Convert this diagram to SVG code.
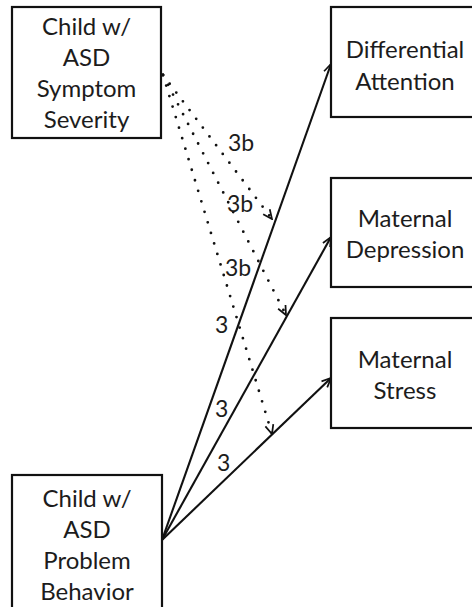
<svg xmlns="http://www.w3.org/2000/svg" width="472" height="607" viewBox="0 0 472 607">
  <style>
    .box { fill: #ffffff; stroke: #111111; stroke-width: 2.2; }
    .lbl { font-family: Lato, "Open Sans", "Liberation Sans", sans-serif; font-size: 24px; fill: #1c1c1c; text-anchor: middle; }
    .num { font-family: Lato, "Open Sans", "Liberation Sans", sans-serif; font-size: 23px; fill: #1c1c1c; }
    .solid { fill: none; stroke: #111111; stroke-width: 2.1; marker-end: url(#head); }
    .dots { fill: none; stroke: #111111; stroke-width: 2.8; stroke-linecap: round; stroke-dasharray: 0 11; marker-end: url(#head); }
  </style>
  <defs>
    <marker id="head" viewBox="0 0 12 12" refX="11" refY="6" markerWidth="11" markerHeight="11" markerUnits="userSpaceOnUse" orient="auto">
      <path d="M1,1.5 L11,6 L1,10.5" fill="none" stroke="#111111" stroke-width="1.9" stroke-dasharray="none"/>
    </marker>
  </defs>

  <rect width="472" height="607" fill="#ffffff"/>

  <!-- paths between the constructs -->
  <g id="connectors">
    <line class="solid" x1="162" y1="540" x2="331" y2="64"/>
    <line class="solid" x1="162" y1="540" x2="331" y2="237"/>
    <line class="solid" x1="162" y1="540" x2="331" y2="378"/>
    <line class="dots" x1="163" y1="75" x2="272" y2="219"/>
    <line class="dots" x1="163" y1="75" x2="286" y2="315"/>
    <line class="dots" x1="163" y1="75" x2="272" y2="434"/>
    <text class="num" x="228" y="151">3b</text>
    <text class="num" x="227" y="212">3b</text>
    <text class="num" x="225" y="276">3b</text>
    <text class="num" x="215" y="333">3</text>
    <text class="num" x="215" y="417">3</text>
    <text class="num" x="217" y="471">3</text>
  </g>

  <g id="symptom-severity">
    <rect class="box" x="12" y="7" width="149" height="131"/>
    <text class="lbl" x="86.5" y="35">Child w/</text>
    <text class="lbl" x="86.5" y="66">ASD</text>
    <text class="lbl" x="86.5" y="97">Symptom</text>
    <text class="lbl" x="86.5" y="128">Severity</text>
  </g>

  <g id="problem-behavior">
    <rect class="box" x="12" y="475" width="150" height="145"/>
    <text class="lbl" x="87" y="507">Child w/</text>
    <text class="lbl" x="87" y="538">ASD</text>
    <text class="lbl" x="87" y="569">Problem</text>
    <text class="lbl" x="87" y="600">Behavior</text>
  </g>

  <g id="differential-attention">
    <rect class="box" x="331" y="7" width="150" height="110"/>
    <text class="lbl" x="405" y="58">Differential</text>
    <text class="lbl" x="405" y="90">Attention</text>
  </g>

  <g id="maternal-depression">
    <rect class="box" x="331" y="178" width="150" height="109"/>
    <text class="lbl" x="405" y="227">Maternal</text>
    <text class="lbl" x="405" y="258">Depression</text>
  </g>

  <g id="maternal-stress">
    <rect class="box" x="331" y="318" width="150" height="110"/>
    <text class="lbl" x="405" y="368">Maternal</text>
    <text class="lbl" x="405" y="399">Stress</text>
  </g>
</svg>
